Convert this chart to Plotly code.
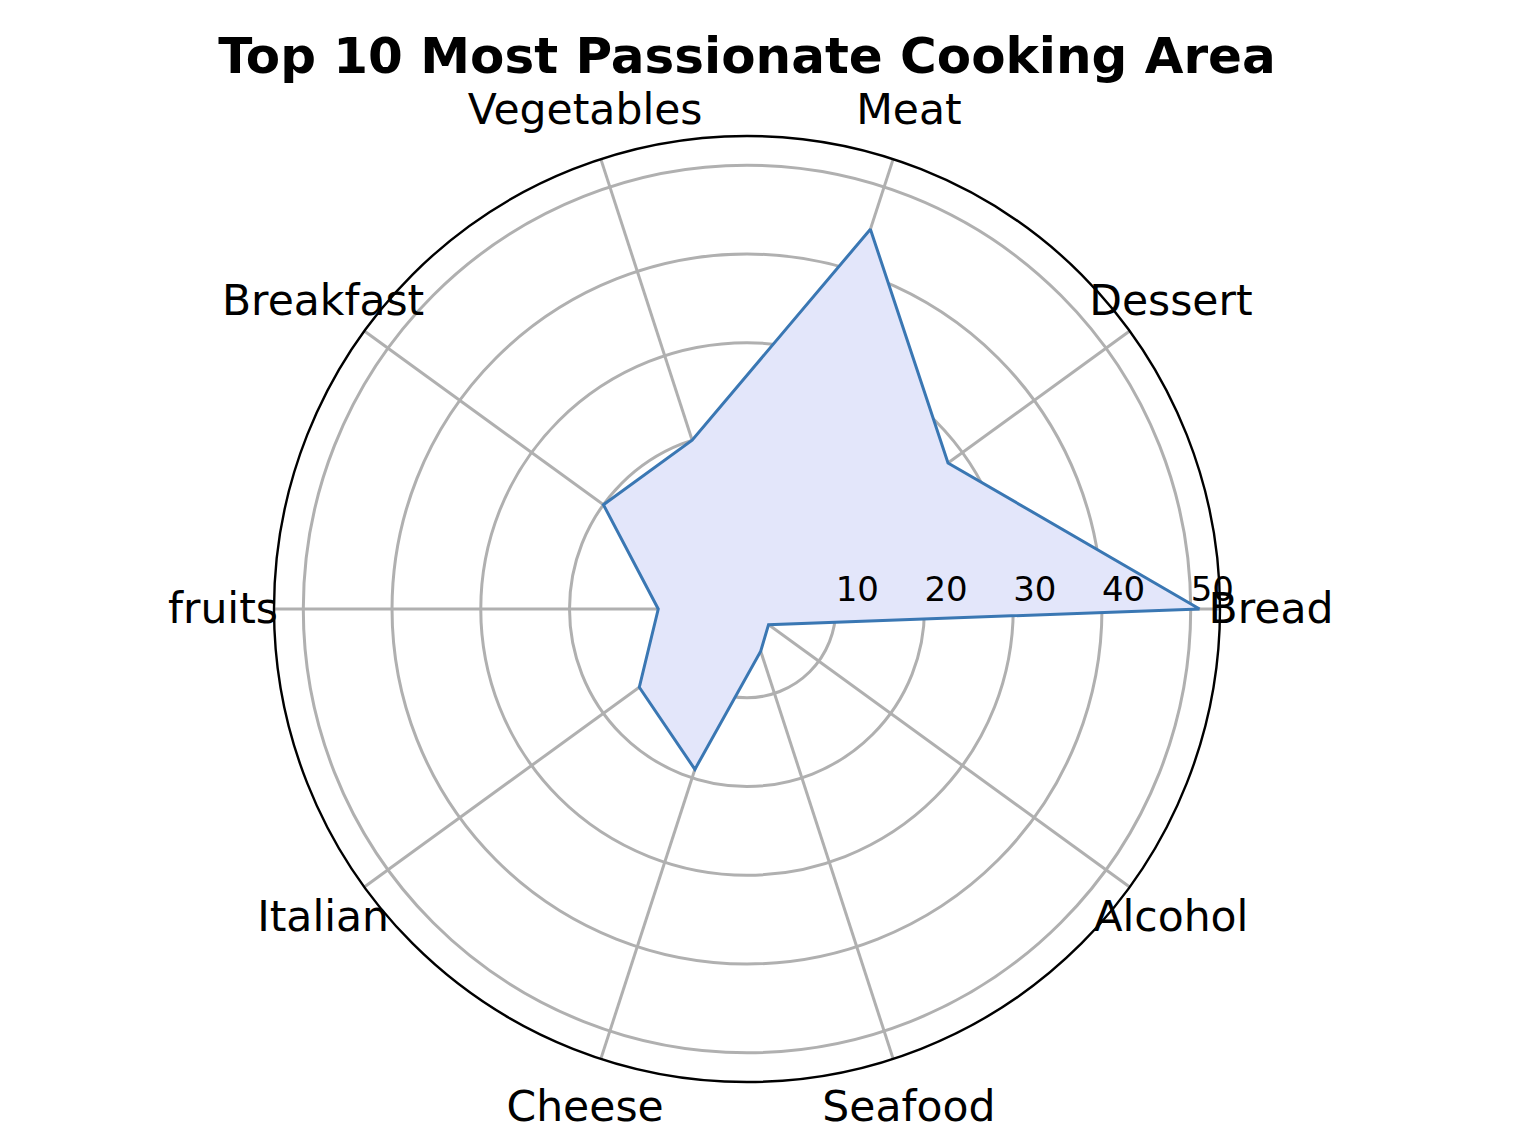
import plotly.graph_objects as go

categories = ["Bread", "Dessert", "Meat", "Vegetables", "Breakfast",
              "fruits", "Italian", "Cheese", "Seafood", "Alcohol"]
values = [51, 28, 45, 20, 20, 10, 15, 19, 5, 3]
radial_ticks = [10, 20, 30, 40, 50]
title_text = "Top 10 Most Passionate Cooking Area"

R_MAX = 53.3          # radial axis upper limit

theta = categories + categories[:1]
r = values + values[:1]

fig = go.Figure()
fig.add_trace(go.Scatterpolar(
    r=r, theta=theta, mode="lines", fill="toself",
    fillcolor="rgba(227,230,250,1)",
    line=dict(color="#3a77b3", width=3),
    hoverinfo="skip", showlegend=False, subplot="polar",
))
# radial tick labels along the 0-degree spoke
fig.add_trace(go.Scatterpolar(
    r=radial_ticks, theta=[categories[0]] * len(radial_ticks), mode="text",
    text=[str(t) for t in radial_ticks], textposition="top right",
    cliponaxis=False,
    textfont=dict(size=34, family="DejaVu Sans", color="black"),
    hoverinfo="skip", showlegend=False, subplot="polar",
))
# category labels, centred on a slightly larger invisible polar frame
fig.add_trace(go.Scatterpolar(
    r=[1] * len(categories), theta=categories, mode="text",
    text=categories, textposition="middle center", cliponaxis=False,
    textfont=dict(size=42.5, family="DejaVu Sans", color="black"),
    hoverinfo="skip", showlegend=False, subplot="polar2",
))

W, H = 1528, 1144
cx, cy, R = 747, 609, 473
RL = 524      # label frame radius in px
cyl = cy + 3  # label frame centre (text baseline compensation)

fig.update_layout(
    width=W, height=H,
    margin=dict(l=0, r=0, t=0, b=0),
    paper_bgcolor="white",
    font=dict(family="DejaVu Sans", color="black"),
    title=dict(text="<b>" + title_text + "</b>", x=cx / W, xanchor="center",
               y=1 - 55 / H, yanchor="middle",
               font=dict(size=50, family="DejaVu Sans", color="black")),
    polar=dict(
        domain=dict(x=[(cx - R) / W, (cx + R) / W],
                    y=[1 - (cy + R) / H, 1 - (cy - R) / H]),
        bgcolor="white",
        radialaxis=dict(range=[0, R_MAX], tickvals=radial_ticks,
                        angle=0, showticklabels=False,
                        showline=False, ticks="",
                        gridcolor="#b0b0b0", gridwidth=2.6),
        angularaxis=dict(rotation=0, direction="counterclockwise",
                         categoryorder="array", categoryarray=categories,
                         showline=True, linecolor="black", linewidth=2.4,
                         gridcolor="#b0b0b0", gridwidth=2.6, ticks="",
                         showticklabels=False),
    ),
    polar2=dict(
        domain=dict(x=[(cx - RL) / W, (cx + RL) / W],
                    y=[1 - (cyl + RL) / H, 1 - (cyl - RL) / H]),
        bgcolor="rgba(0,0,0,0)",
        radialaxis=dict(range=[0, 1], visible=False, showgrid=False),
        angularaxis=dict(rotation=0, direction="counterclockwise",
                         categoryorder="array", categoryarray=categories,
                         visible=False, showgrid=False, showline=False,
                         showticklabels=False, ticks=""),
    ),
)

fig.write_html("out.html")
